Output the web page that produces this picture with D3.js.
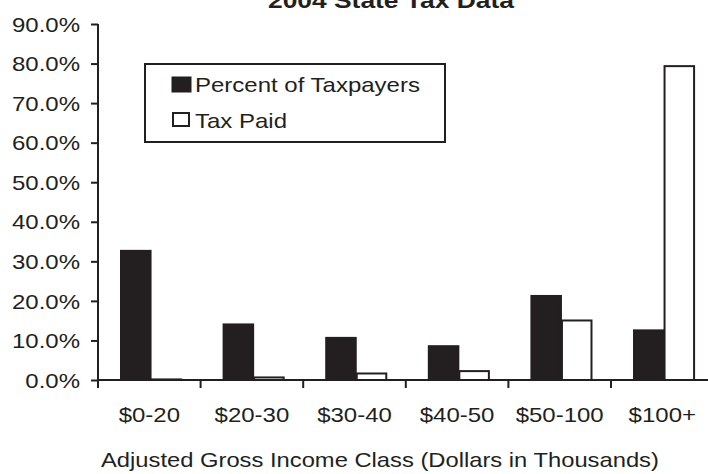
<!DOCTYPE html>
<html><head><meta charset="utf-8">
<script src="https://cdn.jsdelivr.net/npm/d3@7"></script>
<style>
html,body{margin:0;padding:0;background:#fff;overflow:hidden;}
svg{display:block;}
text{font-family:"Liberation Sans",Arial,Helvetica,sans-serif;fill:#231f20;}
</style></head>
<body>
<svg id="chart" width="708" height="474"></svg>
<script>
const categories = ["$0-20","$20-30","$30-40","$40-50","$50-100","$100+"];
const seriesNames = ["Percent of Taxpayers","Tax Paid"];
const percentTaxpayers = [32.9,14.3,10.9,8.8,21.5,12.8];
const taxPaid = [0.4,0.9,1.9,2.5,15.3,79.6];
const yTicks = [0,10,20,30,40,50,60,70,80,90];
const titleText = "2004 State Tax Data";
const xTitle = "Adjusted Gross Income Class (Dollars in Thousands)";

const seriesValues = [percentTaxpayers, taxPaid];
const fills = ["#231f20","#ffffff"];
const SX = 1.2; // horizontal stretch of the reference's type
const ink = "#231f20";

const svg = d3.select("#chart");
const x0 = d3.scaleBand().domain(categories).range([98, 98 + 6*102.6]).padding(0);
const x1 = d3.scaleBand().domain(seriesNames).range([0, x0.bandwidth()])
  .paddingInner(0).paddingOuter(0.68).align(0.53);
const y = d3.scaleLinear().domain([0,90]).range([380,24]);

// bars
const rows = categories.map((c,i)=>({cat:c, vals:seriesNames.map((s,j)=>({s, v:seriesValues[j][i], j}))}));
const g = svg.append("g");
g.selectAll("g.cat").data(rows).join("g").attr("class","cat")
  .attr("transform", d=>`translate(${x0(d.cat)},0)`)
  .selectAll("rect").data(d=>d.vals).join("rect")
  .attr("x", d=>x1(d.s)+1)
  .attr("width", x1.bandwidth()-1)
  .attr("y", d=>y(d.v)+1)
  .attr("height", d=>Math.max(0, y(0)-y(d.v)-1))
  .attr("fill", d=>fills[d.j])
  .attr("stroke", ink).attr("stroke-width", 2);

// y axis
const yAxis = svg.append("g").attr("transform","translate(98,0)")
  .call(d3.axisLeft(y).tickValues(yTicks).tickSize(7).tickPadding(8).tickFormat(d=>d.toFixed(1)+"%"));
yAxis.select(".domain").attr("stroke", ink).attr("stroke-width",2).attr("d","M0,24V381");
yAxis.selectAll(".tick line").attr("stroke", ink).attr("stroke-width",2);
yAxis.selectAll(".tick text").attr("font-size",20).attr("fill",ink)
  .attr("font-family",'"Liberation Sans",Arial,sans-serif')
  .attr("transform",`scale(${SX},1)`).attr("dy","0.36em");

// x axis
const bounds = categories.map(c=>x0(c)).concat([x0.range()[1]]);
const xAxis = svg.append("g").attr("transform","translate(0,380)");
xAxis.append("line").attr("x1",97).attr("x2",720).attr("y1",0).attr("y2",0)
  .attr("stroke",ink).attr("stroke-width",2);
xAxis.selectAll("line.t").data(bounds).join("line").attr("class","t")
  .attr("x1",d=>d).attr("x2",d=>d).attr("y1",0).attr("y2",8)
  .attr("stroke",ink).attr("stroke-width",2);
xAxis.selectAll("text.lab").data(categories).join("text").attr("class","lab")
  .attr("transform",d=>`translate(${x0(d)+x0.bandwidth()/2},42) scale(${SX},1)`)
  .attr("text-anchor","middle").attr("font-size",20).text(d=>d);

// axis title
svg.append("text").attr("transform",`translate(101,467) scale(${SX},1)`)
  .attr("text-anchor","start").attr("font-size",19.8).text(xTitle);

// chart title
svg.append("text").attr("transform",`translate(268,8) scale(${SX},1)`)
  .attr("text-anchor","start").attr("font-size",22).attr("font-weight","bold").text(titleText);

// legend
const lg = svg.append("g");
lg.append("rect").attr("x",145).attr("y",64).attr("width",300).attr("height",78)
  .attr("fill","#fff").attr("stroke",ink).attr("stroke-width",2);
const items = lg.selectAll("g.it").data(seriesNames).join("g").attr("class","it")
  .attr("transform",(d,i)=>`translate(172,${i===0?76:112})`);
items.append("rect").attr("x",d=>d===seriesNames[0]?0:1).attr("y",1)
  .attr("width",d=>d===seriesNames[0]?19:16).attr("height",d=>d===seriesNames[0]?15:13)
  .attr("fill",(d,i)=>fills[i]).attr("stroke",ink).attr("stroke-width",(d,i)=>i===0?1:2);
items.append("text").attr("transform",`translate(23,16) scale(${SX},1)`)
  .attr("font-size",20).text(d=>d);
</script>
</body></html>
